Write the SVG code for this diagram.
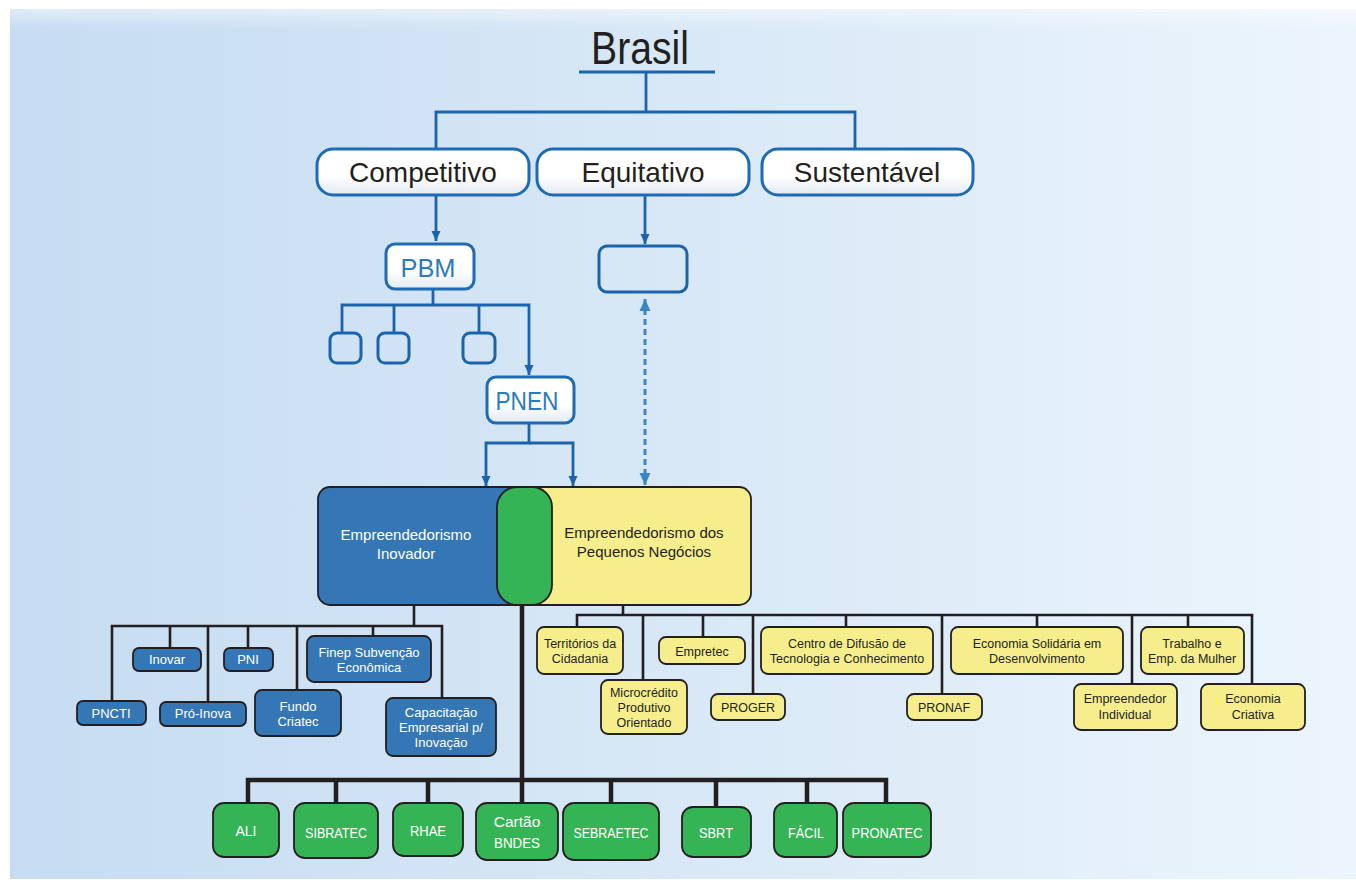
<svg xmlns="http://www.w3.org/2000/svg" width="1356" height="883" viewBox="0 0 1356 883">
<defs>
<linearGradient id="bg" x1="0" y1="0" x2="1" y2="0">
<stop offset="0" stop-color="#c6dcf2"/>
<stop offset="0.5" stop-color="#d8e8f6"/>
<stop offset="1" stop-color="#ecf5fd"/>
</linearGradient>
<linearGradient id="topfade" x1="0" y1="0" x2="0" y2="1">
<stop offset="0" stop-color="#ffffff" stop-opacity="0.45"/>
<stop offset="1" stop-color="#ffffff" stop-opacity="0"/>
</linearGradient>
<linearGradient id="wbox" x1="0" y1="0" x2="0" y2="1">
<stop offset="0" stop-color="#ffffff"/>
<stop offset="0.6" stop-color="#ffffff"/>
<stop offset="1" stop-color="#e1e9f4"/>
</linearGradient>
<marker id="ab" markerUnits="userSpaceOnUse" markerWidth="10" markerHeight="10" refX="10" refY="5" orient="auto">
<path d="M0,0.5 L10,5 L0,9.5 z" fill="#1b64ad"/>
</marker>
<marker id="ad" markerUnits="userSpaceOnUse" markerWidth="12" markerHeight="12" refX="12" refY="6" orient="auto-start-reverse">
<path d="M0,0.5 L12,6 L0,11.5 z" fill="#3a86c6"/>
</marker>
<style>
.top{fill:url(#wbox);stroke:#1f6bb3;stroke-width:3}
.toptx{font-family:"Liberation Sans",Arial,sans-serif;font-size:28px;fill:#231f20;text-anchor:middle}
.btx{font-family:"Liberation Sans",Arial,sans-serif;font-size:26px;fill:#2a7bbf;text-anchor:middle}
.bl{fill:none;stroke:#1b64ad;stroke-width:2.8}
.k{fill:none;stroke:#231f20;stroke-width:2.6}
.kg{fill:none;stroke:#231f20;stroke-width:4.5}
.nb{fill:#3577b4;stroke:#231f20;stroke-width:1.8}
.ny{fill:#f6ee8c;stroke:#231f20;stroke-width:1.8}
.ng{fill:#35b456;stroke:#231f20;stroke-width:1.8}
.tw{font-family:"Liberation Sans",Arial,sans-serif;font-size:13px;fill:#ffffff;text-anchor:middle}
.ty{font-family:"Liberation Sans",Arial,sans-serif;font-size:12.5px;fill:#231f20;text-anchor:middle}
.tg{font-family:"Liberation Sans",Arial,sans-serif;font-size:15.5px;fill:#ffffff;text-anchor:middle}
.tm{font-family:"Liberation Sans",Arial,sans-serif;font-size:15px;text-anchor:middle}
</style>
</defs>
<rect x="0" y="0" width="1356" height="883" fill="#ffffff"/>
<rect x="10" y="9" width="1346" height="870" fill="url(#bg)"/>
<rect x="10" y="9" width="1346" height="20" fill="url(#topfade)"/>

<g id="connectors">
<path class="bl" d="M579,72 H715"/>
<path class="bl" d="M646,72 V112"/>
<path class="bl" d="M436,149 V112 H855 V149"/>
<path class="bl" d="M436,196 V241" marker-end="url(#ab)"/>
<path class="bl" d="M645,196 V244" marker-end="url(#ab)"/>
<path class="bl" d="M433,289 V305"/>
<path class="bl" d="M342,333 V305 H529 V375" marker-end="url(#ab)"/>
<path class="bl" d="M394,305 V333"/>
<path class="bl" d="M479,305 V333"/>
<path class="bl" d="M529,423 V443 H486 V486" marker-end="url(#ab)"/>
<path class="bl" d="M529,443 H573 V486" marker-end="url(#ab)"/>
<path d="M645,299 V485" fill="none" stroke="#3a86c6" stroke-width="3" stroke-dasharray="6,4" marker-start="url(#ad)" marker-end="url(#ad)"/>
<path class="k" d="M414,605 V626"/>
<path class="k" d="M112,701 V626 H442 V698"/>
<path class="k" d="M170,626 V648 M208,626 V702 M248,626 V648 M297,626 V690 M373,626 V636"/>
<path class="k" d="M623,605 V615"/>
<path class="k" d="M577,627 V615 H1252 V684"/>
<path class="k" d="M643,615 V680 M703,615 V637 M753,615 V694 M846,615 V627 M942,615 V694 M1037,615 V627 M1132,615 V684 M1188,615 V627"/>
<path class="kg" d="M522,605 V803"/>
<path class="kg" d="M248,803 V780 H886 V803"/>
<path class="kg" d="M336,780 V803 M428,780 V803 M611,780 V803 M716,780 V807 M807,780 V803"/>
</g>

<g id="brasil"><text x="640" y="64" font-family="'Liberation Sans',Arial,sans-serif" font-size="46" fill="#231f20" text-anchor="middle" textLength="98" lengthAdjust="spacingAndGlyphs">Brasil</text></g>

<g id="competitivo"><rect class="top" x="317" y="149" width="212" height="46" rx="16"/><text class="toptx" x="423" y="182">Competitivo</text></g>
<g id="equitativo"><rect class="top" x="537" y="149" width="212" height="46" rx="16"/><text class="toptx" x="643" y="182">Equitativo</text></g>
<g id="sustentavel"><rect class="top" x="762" y="149" width="211" height="46" rx="16"/><text class="toptx" x="867" y="182">Sustentável</text></g>

<g id="pbm"><rect class="top" x="386" y="244" width="88" height="45" rx="9"/><text class="btx" x="428" y="277" textLength="55" lengthAdjust="spacingAndGlyphs">PBM</text></g>
<g id="equi-box"><rect x="599" y="246" width="88" height="46" rx="8" fill="none" stroke="#1b64ad" stroke-width="3"/></g>
<g id="pbm-sub1"><rect x="330" y="333" width="31" height="30" rx="7" fill="none" stroke="#1b64ad" stroke-width="3"/></g>
<g id="pbm-sub2"><rect x="378" y="333" width="31" height="30" rx="7" fill="none" stroke="#1b64ad" stroke-width="3"/></g>
<g id="pbm-sub3"><rect x="463" y="333" width="32" height="30" rx="7" fill="none" stroke="#1b64ad" stroke-width="3"/></g>
<g id="pnen"><rect class="top" x="487" y="377" width="87" height="46" rx="9"/><text class="btx" x="527" y="410" font-size="28" textLength="63" lengthAdjust="spacingAndGlyphs">PNEN</text></g>

<g id="empreendedorismo">
<rect class="nb" x="318" y="487" width="222" height="118" rx="12"/>
<rect class="ny" x="515" y="487" width="236" height="118" rx="12"/>
<rect class="ng" x="497" y="487" width="55" height="118" rx="20"/>
<text class="tm" x="406" y="540" fill="#ffffff">Empreendedorismo</text>
<text class="tm" x="406" y="559" fill="#ffffff">Inovador</text>
<text class="tm" x="644" y="538" fill="#231f20">Empreendedorismo dos</text>
<text class="tm" x="644" y="557" fill="#231f20">Pequenos Negócios</text>
</g>

<g id="pncti"><rect class="nb" x="77" y="701" width="69" height="24" rx="6"/><text class="tw" x="111" y="718">PNCTI</text></g>
<g id="inovar"><rect class="nb" x="133" y="648" width="68" height="23" rx="6"/><text class="tw" x="167" y="664">Inovar</text></g>
<g id="pro-inova"><rect class="nb" x="160" y="702" width="86" height="24" rx="6"/><text class="tw" x="203" y="718">Pró-Inova</text></g>
<g id="pni"><rect class="nb" x="224" y="648" width="49" height="23" rx="6"/><text class="tw" x="248" y="664">PNI</text></g>
<g id="fundo-criatec"><rect class="nb" x="255" y="690" width="86" height="46" rx="7"/><text class="tw" x="298" y="711">Fundo</text><text class="tw" x="298" y="726">Criatec</text></g>
<g id="finep"><rect class="nb" x="307" y="636" width="124" height="46" rx="7"/><text class="tw" x="369" y="657">Finep Subvenção</text><text class="tw" x="369" y="672">Econômica</text></g>
<g id="capacitacao"><rect class="nb" x="386" y="698" width="110" height="58" rx="7"/><text class="tw" x="441" y="717">Capacitação</text><text class="tw" x="441" y="732">Empresarial p/</text><text class="tw" x="441" y="747">Inovação</text></g>

<g id="territorios"><rect class="ny" x="537" y="627" width="86" height="47" rx="7"/><text class="ty" x="580" y="648">Territórios da</text><text class="ty" x="580" y="663">Cidadania</text></g>
<g id="microcredito"><rect class="ny" x="601" y="680" width="86" height="54" rx="7"/><text class="ty" x="644" y="697">Microcrédito</text><text class="ty" x="644" y="712">Produtivo</text><text class="ty" x="644" y="727">Orientado</text></g>
<g id="empretec"><rect class="ny" x="659" y="637" width="86" height="27" rx="7"/><text class="ty" x="702" y="656">Empretec</text></g>
<g id="proger"><rect class="ny" x="711" y="694" width="74" height="26" rx="7"/><text class="ty" x="748" y="712">PROGER</text></g>
<g id="centro"><rect class="ny" x="761" y="627" width="172" height="47" rx="7"/><text class="ty" x="847" y="648">Centro de Difusão de</text><text class="ty" x="847" y="663">Tecnologia e Conhecimento</text></g>
<g id="pronaf"><rect class="ny" x="907" y="694" width="75" height="26" rx="7"/><text class="ty" x="944" y="712">PRONAF</text></g>
<g id="economia-solidaria"><rect class="ny" x="951" y="627" width="172" height="47" rx="7"/><text class="ty" x="1037" y="648">Economia Solidária em</text><text class="ty" x="1037" y="663">Desenvolvimento</text></g>
<g id="trabalho"><rect class="ny" x="1141" y="627" width="103" height="47" rx="7"/><text class="ty" x="1192" y="648">Trabalho e</text><text class="ty" x="1192" y="663">Emp. da Mulher</text></g>
<g id="empreendedor-individual"><rect class="ny" x="1074" y="684" width="103" height="46" rx="7"/><text class="ty" x="1125" y="703">Empreendedor</text><text class="ty" x="1125" y="719">Individual</text></g>
<g id="economia-criativa"><rect class="ny" x="1201" y="684" width="104" height="46" rx="7"/><text class="ty" x="1253" y="703">Economia</text><text class="ty" x="1253" y="719">Criativa</text></g>

<g id="ali"><rect class="ng" x="213" y="803" width="66" height="54" rx="11"/><text class="tg" x="246" y="836" textLength="21" lengthAdjust="spacingAndGlyphs">ALI</text></g>
<g id="sibratec"><rect class="ng" x="294" y="803" width="84" height="55" rx="11"/><text class="tg" x="336" y="838" textLength="62" lengthAdjust="spacingAndGlyphs">SIBRATEC</text></g>
<g id="rhae"><rect class="ng" x="393" y="803" width="70" height="53" rx="11"/><text class="tg" x="428" y="836" textLength="36" lengthAdjust="spacingAndGlyphs">RHAE</text></g>
<g id="cartao"><rect class="ng" x="476" y="803" width="82" height="57" rx="11"/><text class="tg" x="517" y="827">Cartão</text><text class="tg" x="517" y="848" textLength="46" lengthAdjust="spacingAndGlyphs">BNDES</text></g>
<g id="sebraetec"><rect class="ng" x="563" y="803" width="96" height="57" rx="11"/><text class="tg" x="611" y="838" textLength="75" lengthAdjust="spacingAndGlyphs">SEBRAETEC</text></g>
<g id="sbrt"><rect class="ng" x="682" y="807" width="69" height="50" rx="11"/><text class="tg" x="716" y="838" textLength="34" lengthAdjust="spacingAndGlyphs">SBRT</text></g>
<g id="facil"><rect class="ng" x="774" y="803" width="63" height="54" rx="11"/><text class="tg" x="806" y="838" textLength="36" lengthAdjust="spacingAndGlyphs">FÁCIL</text></g>
<g id="pronatec"><rect class="ng" x="843" y="803" width="88" height="54" rx="11"/><text class="tg" x="887" y="838" textLength="71" lengthAdjust="spacingAndGlyphs">PRONATEC</text></g>
</svg>
